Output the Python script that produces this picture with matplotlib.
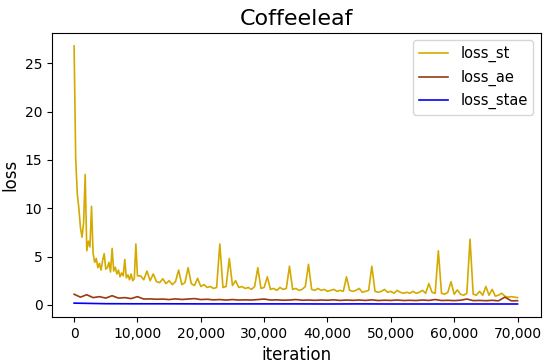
import numpy as np
import matplotlib
matplotlib.use("Agg")
import matplotlib.pyplot as plt
from matplotlib.ticker import FuncFormatter

# loss_st, first 10k iterations read every 250
st_early = [
    26.8, 15.2, 11.5, 10.0, 8.0, 7.0, 8.5, 13.5, 5.6, 6.6,
    6.0, 10.2, 5.3, 4.4, 4.8, 3.85, 4.3, 3.6, 4.6, 5.3,
    3.7, 3.85, 4.4, 3.4, 5.85, 3.5, 3.9, 3.2, 3.6, 2.9,
    3.3, 3.0, 4.7, 2.8, 3.1, 2.6, 3.2, 2.5, 2.7, 6.3,
]
# loss_st, 10k..70k read every 500
st_late = [
    3.0, 3.0, 2.6, 3.5, 2.5, 3.2, 2.4, 2.3, 2.7, 2.2,
    2.5, 2.1, 2.4, 3.6, 2.1, 2.3, 3.85, 2.2, 2.0, 2.75,
    1.9, 2.1, 1.8, 1.9, 1.7, 1.8, 6.3, 1.8, 1.9, 4.8,
    2.0, 2.5, 1.8, 1.9, 1.7, 1.8, 1.6, 1.9, 3.85, 1.7,
    1.8, 2.9, 1.6, 1.7, 1.5, 1.8, 1.6, 1.7, 4.0, 1.6,
    1.7, 1.5, 1.6, 1.9, 4.2, 1.6, 1.5, 1.7, 1.5, 1.6,
    1.4, 1.5, 1.6, 1.4, 1.5, 1.4, 2.9, 1.5, 1.4, 1.5,
    1.7, 1.3, 1.4, 1.5, 4.0, 1.4, 1.3, 1.4, 1.6, 1.3,
    1.4, 1.2, 1.5, 1.3, 1.2, 1.3, 1.2, 1.4, 1.2, 1.3,
    1.5, 1.2, 2.2, 1.3, 1.2, 5.6, 1.2, 1.1, 1.3, 2.4,
    1.1, 1.55, 1.1, 1.0, 1.2, 6.8, 1.1, 1.0, 1.4, 1.0,
    1.9, 1.0, 1.6, 0.9, 1.0, 1.2, 0.9, 0.8, 0.85, 0.8,
    0.75,
]
loss_st = st_early + st_late
st_iter = np.concatenate([np.arange(len(st_early)) * 250,
                          10000 + np.arange(len(st_late)) * 500])

# loss_ae, every 1000 iterations
loss_ae = [
    1.1, 0.8, 1.05, 0.75, 0.85, 0.7, 0.95, 0.7, 0.75, 0.65,
    0.85, 0.6, 0.62, 0.58, 0.6, 0.55, 0.62, 0.56, 0.6, 0.65,
    0.55, 0.58, 0.52, 0.55, 0.5, 0.55, 0.5, 0.52, 0.5, 0.55,
    0.6, 0.5, 0.52, 0.48, 0.5, 0.55, 0.48, 0.5, 0.47, 0.5,
    0.48, 0.52, 0.46, 0.5, 0.47, 0.5, 0.46, 0.52, 0.45, 0.48,
    0.46, 0.5, 0.45, 0.47, 0.45, 0.5, 0.46, 0.55, 0.45, 0.47,
    0.44, 0.48, 0.6, 0.44, 0.46, 0.43, 0.47, 0.42, 0.8, 0.42,
    0.43,
]
ae_iter = np.arange(len(loss_ae)) * 1000

# loss_stae, every 5000 iterations
loss_stae = [0.18, 0.12, 0.11, 0.11, 0.1, 0.1, 0.1, 0.1,
             0.09, 0.1, 0.09, 0.09, 0.09, 0.09, 0.09]
stae_iter = np.arange(len(loss_stae)) * 5000

fig = plt.figure(figsize=(5.5, 3.63), dpi=100)
ax = fig.add_axes([0.095, 0.127, 0.888, 0.782])

ax.plot(st_iter, loss_st, color="#d4aa00", lw=1.2, label="loss_st")
ax.plot(ae_iter, loss_ae, color="#9b3a12", lw=1.2, label="loss_ae")
ax.plot(stae_iter, loss_stae, color="blue", lw=1.2, label="loss_stae")

ax.set_title("Coffeeleaf", fontsize=16)
ax.set_xlabel("iteration", fontsize=12)
ax.set_ylabel("loss", fontsize=12)
ax.set_xlim(-3450, 73650)
ax.set_xticks(range(0, 70001, 10000))
ax.xaxis.set_major_formatter(FuncFormatter(lambda v, p: f"{int(v):,}"))
ax.tick_params(labelsize=10)
ax.legend(loc="upper right", fontsize=10.5)

fig.savefig("out.png", dpi=100)
